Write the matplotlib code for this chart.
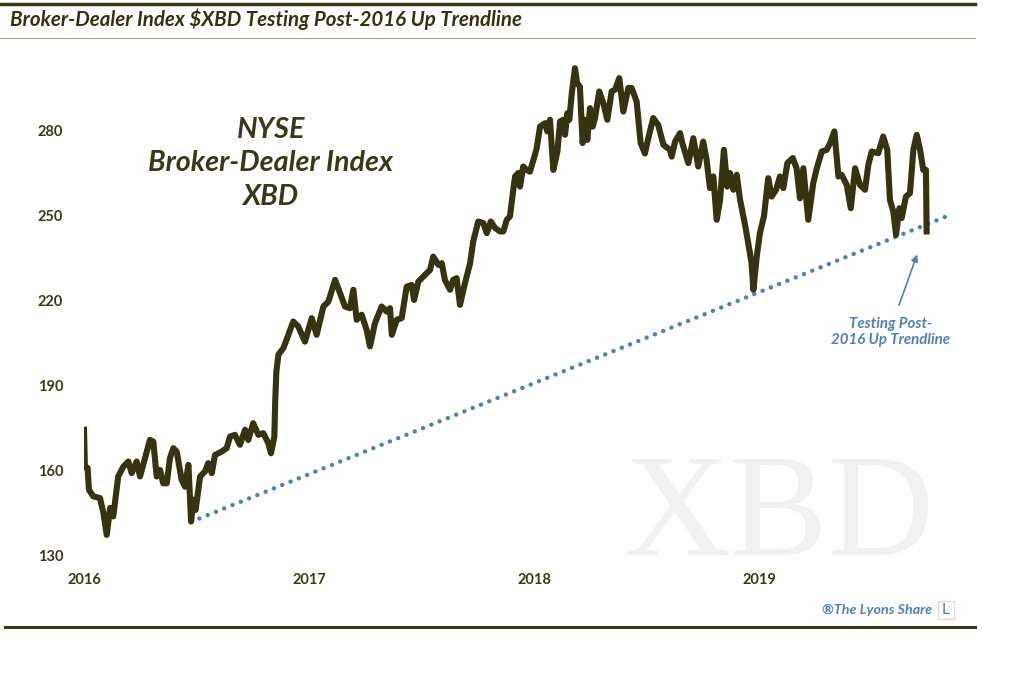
import numpy as np
import matplotlib
matplotlib.use("Agg")
import matplotlib.pyplot as plt
from matplotlib.lines import Line2D
from matplotlib.patches import Rectangle

# XBD weekly-ish closes (decimal year, index level)
years = [
    2016.000, 2016.004, 2016.016, 2016.022, 2016.041, 2016.071, 2016.086, 2016.101, 2016.116, 2016.130,
    2016.152, 2016.175, 2016.197, 2016.212, 2016.234, 2016.249, 2016.271, 2016.293, 2016.308, 2016.323,
    2016.338, 2016.352, 2016.368, 2016.382, 2016.397, 2016.412, 2016.434, 2016.449, 2016.464, 2016.476,
    2016.486, 2016.496, 2016.516, 2016.538, 2016.552, 2016.568, 2016.582, 2016.612, 2016.634, 2016.649,
    2016.671, 2016.693, 2016.716, 2016.730, 2016.752, 2016.775, 2016.797, 2016.819, 2016.831, 2016.846,
    2016.850, 2016.855, 2016.864, 2016.886, 2016.900, 2016.930, 2016.952, 2016.982, 2017.012, 2017.034,
    2017.064, 2017.086, 2017.116, 2017.138, 2017.160, 2017.182, 2017.197, 2017.212, 2017.234, 2017.256,
    2017.271, 2017.293, 2017.323, 2017.345, 2017.360, 2017.368, 2017.390, 2017.412, 2017.434, 2017.456,
    2017.467, 2017.486, 2017.516, 2017.538, 2017.552, 2017.575, 2017.590, 2017.604, 2017.627, 2017.641,
    2017.656, 2017.671, 2017.693, 2017.716, 2017.730, 2017.752, 2017.775, 2017.790, 2017.808, 2017.827,
    2017.849, 2017.864, 2017.879, 2017.893, 2017.908, 2017.916, 2017.930, 2017.938, 2017.952, 2017.967,
    2017.982, 2018.004, 2018.012, 2018.027, 2018.049, 2018.059, 2018.071, 2018.086, 2018.104, 2018.116,
    2018.130, 2018.138, 2018.148, 2018.157, 2018.168, 2018.182, 2018.192, 2018.204, 2018.216, 2018.227,
    2018.237, 2018.249, 2018.261, 2018.271, 2018.290, 2018.308, 2018.326, 2018.345, 2018.360, 2018.379,
    2018.397, 2018.419, 2018.434, 2018.456, 2018.474, 2018.493, 2018.508, 2018.530, 2018.552, 2018.575,
    2018.604, 2018.612, 2018.627, 2018.649, 2018.659, 2018.686, 2018.708, 2018.730, 2018.752, 2018.767,
    2018.782, 2018.797, 2018.812, 2018.827, 2018.844, 2018.859, 2018.871, 2018.886, 2018.901, 2018.916,
    2018.938, 2018.952, 2018.967, 2018.975, 2018.990, 2019.004, 2019.022, 2019.041, 2019.056, 2019.076,
    2019.093, 2019.108, 2019.126, 2019.150, 2019.167, 2019.182, 2019.197, 2019.219, 2019.241, 2019.257,
    2019.279, 2019.301, 2019.316, 2019.335, 2019.353, 2019.367, 2019.390, 2019.408, 2019.427, 2019.449,
    2019.471, 2019.486, 2019.501, 2019.530, 2019.552, 2019.570, 2019.582, 2019.597, 2019.609, 2019.624,
    2019.634, 2019.653, 2019.671, 2019.686, 2019.701, 2019.716, 2019.730, 2019.742, 2019.745,
]
xbd = [
    174.5, 161.5, 161.0, 153.3, 151.0, 150.4, 145.2, 137.4, 146.9, 143.9,
    158.0, 161.5, 163.3, 159.2, 163.3, 158.0, 164.5, 170.9, 170.3, 158.0,
    160.3, 155.6, 155.6, 164.5, 168.0, 166.8, 156.8, 154.4, 162.1, 142.1,
    149.8, 146.2, 158.0, 159.8, 162.7, 159.2, 165.6, 166.8, 168.0, 172.1,
    172.7, 169.2, 174.5, 170.9, 176.8, 172.7, 173.3, 169.8, 166.2, 172.1,
    185.0, 195.0, 201.0, 203.3, 206.2, 212.7, 211.0, 205.6, 213.9, 208.0,
    218.0, 219.7, 227.4, 222.7, 218.0, 217.4, 223.9, 213.3, 215.1, 209.8,
    203.9, 212.1, 218.0, 216.2, 217.4, 208.0, 213.3, 213.9, 225.0, 225.6,
    220.3, 226.8, 229.2, 230.9, 235.6, 232.7, 233.3, 227.4, 223.9, 227.4,
    228.0, 218.6, 226.2, 233.3, 241.0, 248.0, 247.4, 243.9, 248.0, 245.7,
    244.5, 244.5, 248.6, 249.8, 259.2, 263.9, 265.1, 260.3, 267.4, 266.2,
    265.6, 271.5, 273.9, 281.5, 282.7, 279.8, 283.9, 266.2, 272.7, 283.3,
    283.9, 278.6, 286.2, 283.9, 293.3, 302.1, 296.8, 295.6, 275.7, 283.9,
    276.8, 288.0, 281.5, 284.5, 293.9, 289.8, 283.9, 293.9, 294.5, 298.6,
    286.8, 295.1, 295.1, 290.4, 275.7, 272.0, 277.4, 284.5, 282.1, 275.1,
    273.3, 270.9, 276.2, 279.2, 275.7, 268.6, 277.4, 267.4, 276.2, 269.8,
    259.8, 263.9, 248.6, 255.6, 273.3, 260.3, 265.1, 259.2, 264.5, 255.6,
    246.8, 240.4, 233.3, 223.9, 235.6, 243.9, 249.8, 263.3, 256.8, 259.2,
    263.9, 259.8, 268.6, 270.4, 266.8, 256.2, 266.8, 248.6, 261.5, 266.8,
    272.7, 273.3, 275.7, 279.8, 263.9, 264.5, 260.9, 252.7, 266.8, 260.9,
    259.2, 268.0, 272.7, 272.1, 278.0, 273.3, 255.6, 251.5, 243.3, 252.7,
    249.2, 256.8, 258.0, 273.3, 278.6, 273.3, 266.2, 266.2, 244.5,
]

# up trendline from the mid-2016 low
trend_x = [2016.476, 2019.849]
trend_y = [142.0, 250.3]

y_ticks = [130, 160, 190, 220, 250, 280]
x_ticks = [2016, 2017, 2018, 2019]
x_labels = ["2016", "2017", "2018", "2019"]

olive = "#35340f"
blue = "#4f7fbc"

plt.rcParams["font.family"] = ["Lato", "DejaVu Sans"]

fig = plt.figure(figsize=(10.24, 6.78), dpi=100)
ax = fig.add_axes([84 / 1024, 1 - 570 / 678, 900 / 1024, (570 - 60) / 678])

# watermark behind everything
ax.text(2019.09, 130.3, "XBD", fontsize=106, family="Liberation Serif",
        color="#f1f1f1", ha="center", va="baseline", zorder=0)

ax.plot(trend_x, trend_y, color=blue, lw=3.2, ls=(0, (0.01, 2.0)),
        dash_capstyle="round", solid_capstyle="round", zorder=2)
ax.plot(years, xbd, color=olive, lw=4.4, solid_joinstyle="round", zorder=3)

ax.set_xlim(2016, 2020)
ax.set_ylim(125, 305)
ax.set_yticks(y_ticks)
ax.set_xticks(x_ticks)
ax.set_xticklabels(x_labels)
for s in ax.spines.values():
    s.set_visible(False)
ax.tick_params(length=0, labelsize=10.5, labelcolor="#3a3915")
ax.tick_params(axis="y", pad=15)
ax.tick_params(axis="x", pad=2)
for lab in ax.get_xticklabels() + ax.get_yticklabels():
    lab.set_fontweight("bold")

ax.text(2016.83, 268.5, "NYSE\nBroker-Dealer Index\nXBD", fontsize=20.7, fontweight="bold",
        style="italic", color="#3a3915", ha="center", va="center", linespacing=1.35)

ax.annotate("", xy=(2019.707, 237.3), xytext=(2019.618, 217.5),
            arrowprops=dict(arrowstyle="-|>", color=blue, lw=1.2, mutation_scale=10))
ax.text(2019.585, 209.0, "Testing Post-\n2016 Up Trendline", fontsize=10.8, fontweight="bold",
        style="italic", color=blue, ha="center", va="center", linespacing=1.25)

# title and frame lines
fig.text(10 / 1024, 1 - 19 / 678, "Broker-Dealer Index $XBD Testing Post-2016 Up Trendline",
         fontsize=14.8, fontweight="bold", style="italic", color="#33320d", va="center")
fig.add_artist(Line2D([0, 975 / 1024], [1 - 4 / 678] * 2, color="#3a3915", lw=2.5))
fig.add_artist(Line2D([0, 975 / 1024], [1 - 38 / 678] * 2, color="#a3a38a", lw=0.8))
fig.add_artist(Line2D([5 / 1024, 975 / 1024], [1 - 627 / 678] * 2, color="#3a3915", lw=2.2))

fig.text(932 / 1024, 1 - 610 / 678, "®The Lyons Share", fontsize=10.3, fontweight="bold",
         style="italic", color=blue, ha="right", va="center")
fig.add_artist(Rectangle((938 / 1024, 1 - 619 / 678), 16 / 1024, 18 / 678,
                         transform=fig.transFigure, fill=False, ec="#e3dccb", lw=1))
fig.text(946 / 1024, 1 - 610 / 678, "L", fontsize=11, color=blue, ha="center", va="center")

fig.savefig("out.png", dpi=100, facecolor="white")
